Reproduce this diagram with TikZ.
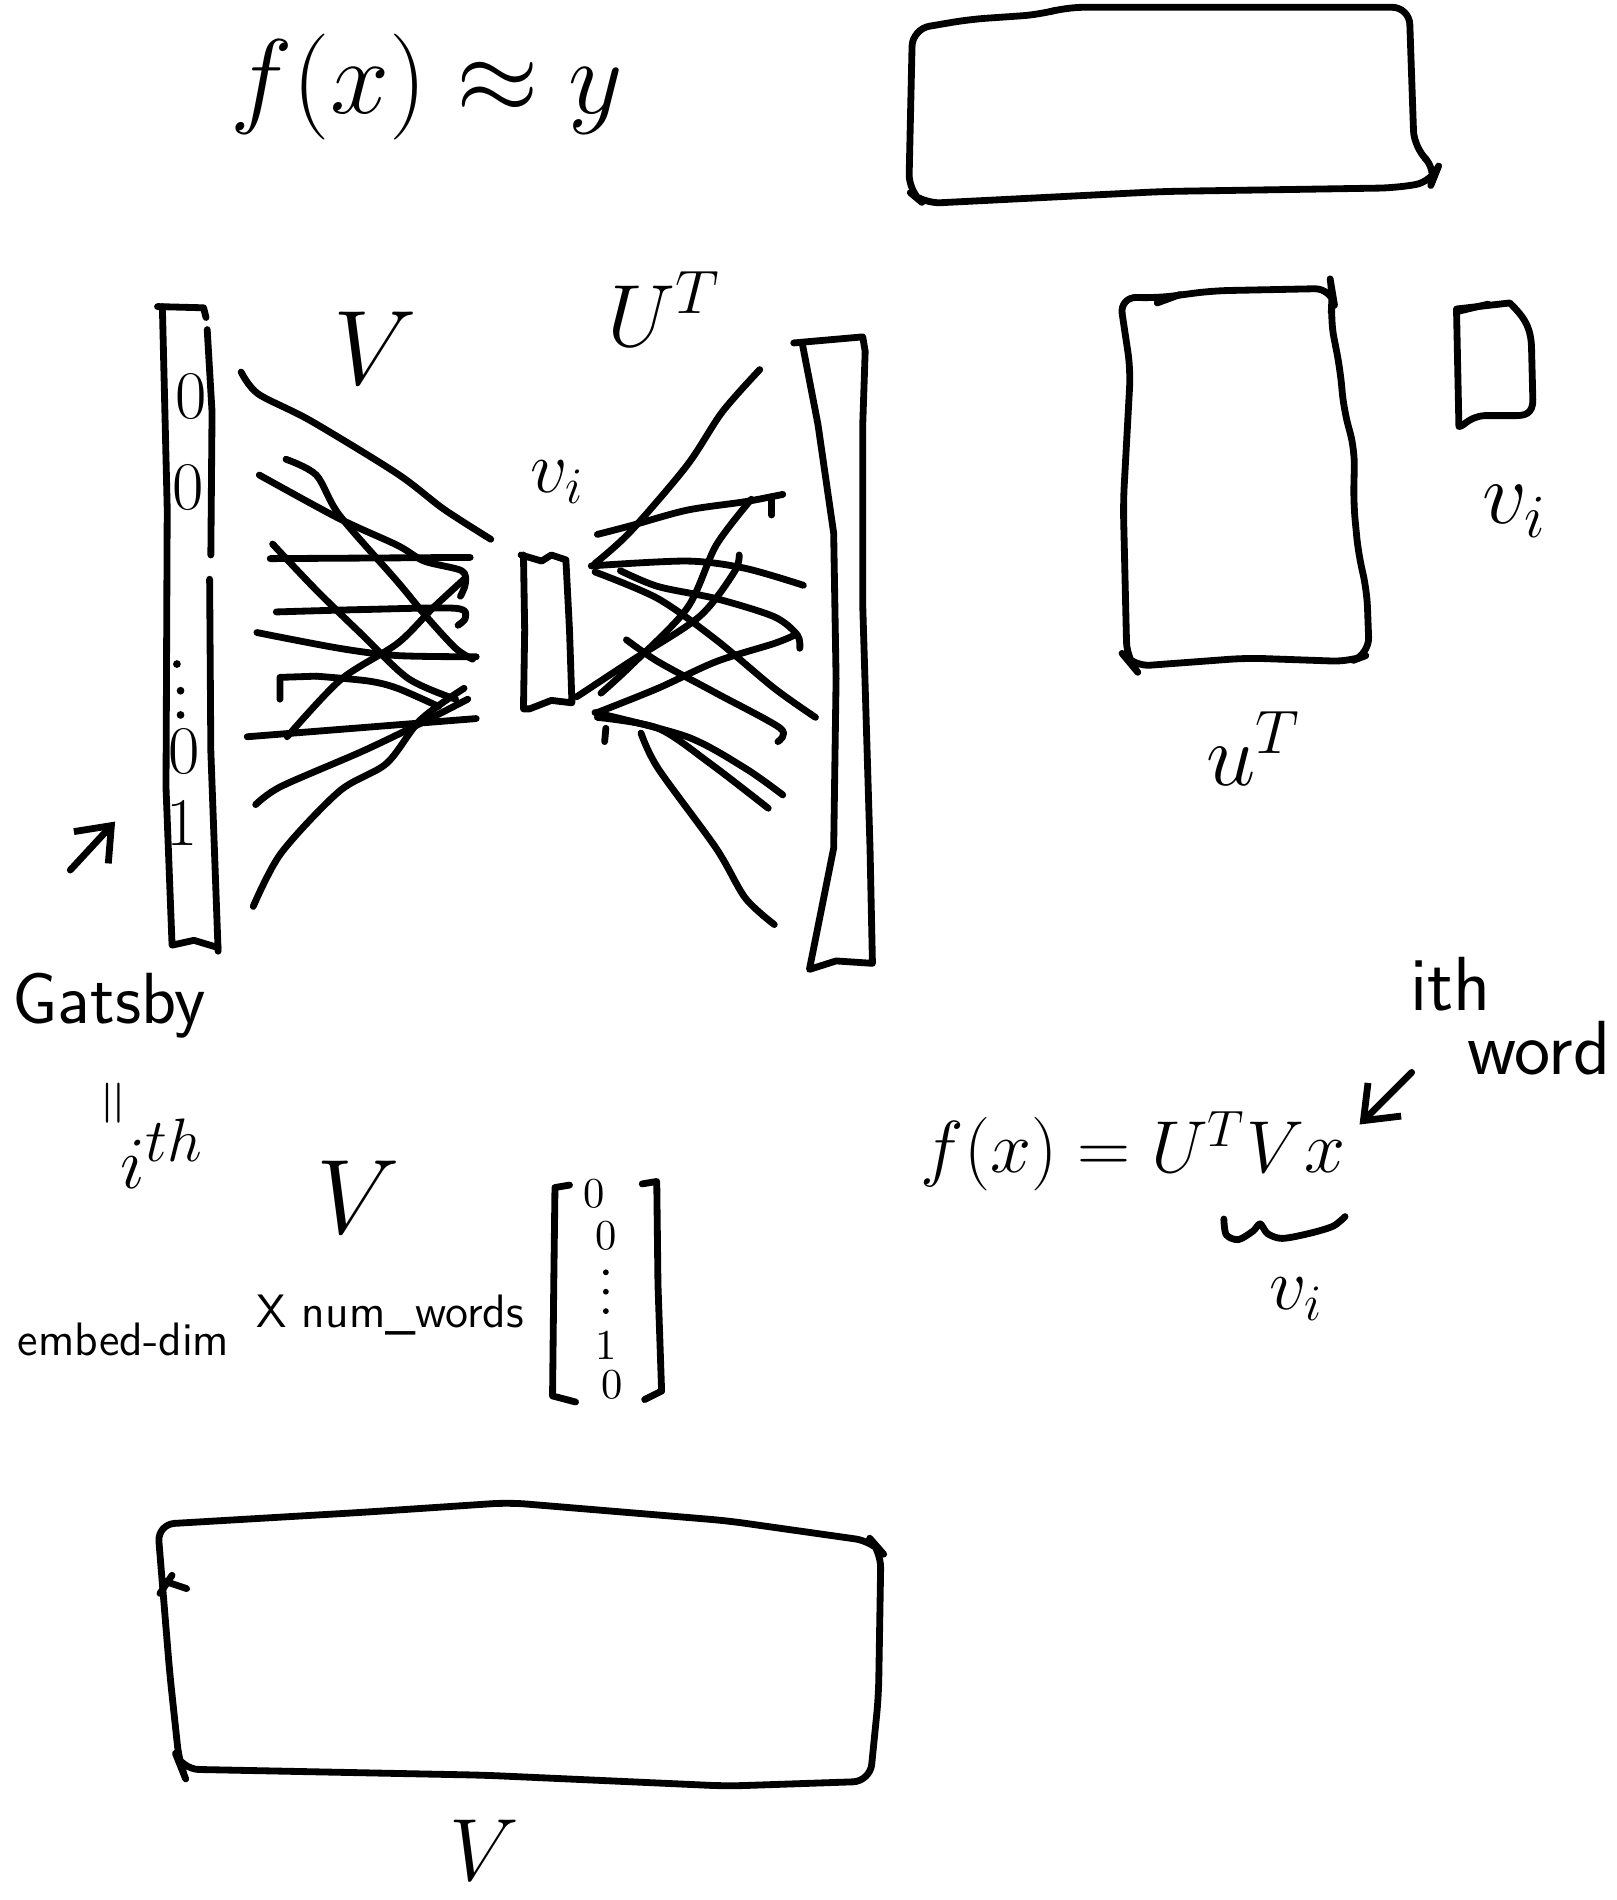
\documentclass[tikz,border=0pt]{standalone}
\usepackage{amsmath}
\usetikzlibrary{arrows.meta}
\begin{document}
\begin{tikzpicture}[x=0.01cm, y=-0.01cm,
    pen/.style={line width=1.6pt, line cap=round, line join=round},
    hand/.style={inner sep=0pt},
    barb/.style={-{Straight Barb[length=7pt, width=11pt, line width=1.6pt]}}]
\useasboundingbox (0,0) rectangle (1334,1568);

% Formel oben
\node[hand, font=\fontsize{25}{30}\selectfont] (approx) at (352,72) {$f(x) \approx y$};

% Breiter Kasten oben rechts
\draw[pen, rounded corners=4pt] (753,24) -- (800,16) -- (858,12) -- (880,6) -- (1163,6) -- (1167,122) -- (1186,140) -- (1182,150) -- (1152,155) -- (960,158) -- (762,168) -- (750,158) -- cycle;

% Linke Spalte (one-hot Vektor)
\draw[pen] (130,253) -- (168,254) -- (170,262);
\draw[pen] (134,253) -- (138,420) -- (137,650) -- (142,780) -- (160,776) -- (180,782);
\draw[pen] (171,272) -- (175,340) -- (174,458);
\draw[pen] (173,478) -- (174,620) -- (180,785);

% Eintraege der linken Spalte
\node[hand, font=\fontsize{16}{16}\selectfont] (xa) at (158,327) {0};
\node[hand, font=\fontsize{16}{16}\selectfont] (xb) at (155,402) {0};
\fill (146,548) circle [radius=3.2];
\fill (149,570) circle [radius=3.2];
\fill (149,590) circle [radius=3.2];
\node[hand, font=\fontsize{16}{16}\selectfont] (xc) at (152,620) {0};
\node[hand, font=\fontsize{16}{16}\selectfont] (xone) at (150,679) {1};

% Pfeil auf die Eins
\coordinate (arrtail) at (58,718);
\coordinate (arrhead) at (95,678);
\draw[pen, barb] (arrtail) -- (arrhead);

% Beschriftungen links
\node[hand, font=\sffamily\fontsize{17}{17}\selectfont] (gatsby) at (90,830) {Gatsby};
\node[hand, rotate=90, font=\fontsize{14}{14}\selectfont] (isis) at (97,910) {$=$};
\node[hand, font=\fontsize{19}{19}\selectfont] (ith) at (134,952) {$i^{th}$};
\node[hand, font=\fontsize{26}{26}\selectfont] (Vlab) at (296,988) {$V$};
\node[hand, font=\sffamily\fontsize{11}{11}\selectfont] (dim) at (102,1105) {embed-dim};
\node[hand, font=\sffamily\fontsize{11}{11}\selectfont] (words) at (322,1085) {X num\_words};

% Vektor in Klammern
\draw[pen] (470,978) -- (458,980) -- (457,1060) -- (456,1152) -- (475,1157);
\draw[pen] (530,977) -- (542,975) -- (543,1060) -- (546,1148) -- (532,1155);
\node[hand, font=\fontsize{10}{10}\selectfont] (ea) at (490,985) {0};
\node[hand, font=\fontsize{10}{10}\selectfont] (eb) at (500,1020) {0};
\fill (500,1050) circle [radius=2.4];
\fill (500,1066) circle [radius=2.4];
\fill (500,1082) circle [radius=2.4];
\node[hand, font=\fontsize{10}{10}\selectfont] (ec) at (500,1110) {1};
\node[hand, font=\fontsize{10}{10}\selectfont] (ed) at (505,1143) {0};

% Beschriftungen ueber den Linien
\node[hand, font=\fontsize{24}{24}\selectfont] (Vtop) at (310,287) {$V$};
\node[hand, font=\fontsize{22}{22}\selectfont] (Utop) at (548,255) {$U^{T}$};
\node[hand, font=\fontsize{18}{18}\selectfont] (vimid) at (460,398) {$v_i$};

% Kleiner Kasten in der Mitte (v_i)
\draw[pen] (430,458) -- (447,463) -- (455,458) -- (467,462) -- (470,520) -- (472,580) -- (455,578) -- (437,585) -- (432,585) -- (433,520) -- (432,458);

% Rechte Spalte
\draw[pen] (655,283) -- (712,278) -- (714,290) -- (712,350) -- (712,500) -- (718,700) -- (720,795) -- (690,793) -- (668,800) -- (688,700) -- (690,560) -- (688,440) -- (675,350) -- (662,283);

% Linien von links zum Kasten
\draw[pen] plot[smooth] coordinates {(199,307) (213,325) (256,347) (328,391) (366,420) (405,445)};
\draw[pen] plot[smooth] coordinates {(214,392) (280,428) (328,450) (350,463) (381,471) (384,482) (380,492)};
\draw[pen] plot[smooth] coordinates {(236,379) (261,392) (280,425) (328,480) (352,509) (376,535) (390,544)};
\draw[pen] (223,461) -- (388,460);
\draw[pen] plot[smooth] coordinates {(225,449) (261,487) (299,524) (337,560) (376,577)};
\draw[pen] plot[smooth] coordinates {(228,505) (300,503) (376,502) (384,510) (378,516)};
\draw[pen] plot[smooth] coordinates {(212,522) (280,535) (328,541) (393,542)};
\draw[pen] (231,577) -- (231,559) -- (261,558);
\draw[pen] plot[smooth] coordinates {(261,558) (304,562) (328,568) (362,583)};
\draw[pen] plot[smooth] coordinates {(237,608) (281,561) (328,531) (357,502) (383,478)};
\draw[pen] (204,608) -- (393,593);
\draw[pen] plot[smooth] coordinates {(211,664) (232,649) (299,620) (347,597) (386,577)};
\draw[pen] plot[smooth] coordinates {(209,748) (232,704) (280,653) (319,630) (347,594) (383,568)};

% Linien vom Kasten nach rechts
\draw[pen] plot[smooth] coordinates {(491,465) (520,439) (567,384) (596,340) (627,305)};
\draw[pen] plot[smooth] coordinates {(493,441) (520,434) (567,421) (615,414) (646,408)};
\draw[pen] (637,410) -- (637,425);
\draw[pen] plot[smooth] coordinates {(488,467) (567,463) (615,469) (663,483)};
\draw[pen] plot[smooth] coordinates {(512,471) (543,484) (591,494) (639,509) (658,524) (660,535)};
\draw[pen] plot[smooth] coordinates {(491,472) (543,494) (591,528) (639,568) (673,592)};
\draw[pen] plot[smooth] coordinates {(496,572) (520,550) (567,502) (591,450) (620,412)};
\draw[pen] plot[smooth] coordinates {(476,575) (520,546) (577,509) (606,472) (610,458)};
\draw[pen] plot[smooth] coordinates {(493,588) (543,568) (591,546) (639,531) (656,524)};
\draw[pen] plot[smooth] coordinates {(517,528) (543,546) (591,572) (644,601) (642,612)};
\draw[pen] plot[smooth] coordinates {(493,592) (543,601) (586,630) (634,667)};
\draw[pen] plot[smooth] coordinates {(491,588) (567,608) (615,634) (646,656)};
\draw[pen] plot[smooth] coordinates {(529,605) (543,634) (591,700) (615,741) (639,763)};
\draw[pen] (500,601) -- (499,612);

% Grosser Kasten U^T
\draw[pen, rounded corners=4pt] (924,245) -- (955,246) -- (1000,240) -- (1099,238) -- (1100,244) -- (1098,264) -- (1106,305) -- (1109,338) -- (1118,371) -- (1117,415) -- (1121,457) -- (1128,487) -- (1130,540) -- (1114,546) -- (1029,543) -- (935,550) -- (930,544) -- (927,415) -- (933,305) -- cycle;
\draw[pen] (955,250) -- (974,243);
\node[hand, font=\fontsize{22}{22}\selectfont] (Ublock) at (1035,618) {$u^{T}$};

% Kleiner Kasten v_i rechts
\draw[pen] (1202,255) -- (1246,250) .. controls (1258,262) and (1264,270) .. (1264,290) -- (1265,330) .. controls (1265,342) and (1258,343) .. (1250,343) -- (1225,343) .. controls (1212,344) and (1208,352) .. (1204,352) -- cycle;
\draw[pen] (1203,257) -- (1228,251);
\node[hand, font=\fontsize{20}{20}\selectfont] (viright) at (1250,422) {$v_i$};

% Formel f(x) = U^T V x
\node[hand, font=\fontsize{18}{18}\selectfont] (model) at (935,950) {$f(x) = U^{T} V x$};
\draw[pen] plot[smooth] coordinates {(1010,1006) (1012,1019) (1022,1023) (1034,1016) (1040,1010) (1046,1018) (1058,1022) (1080,1018) (1100,1012) (1110,1004)};
\node[hand, font=\fontsize{18}{18}\selectfont] (vieq) at (1070,1072) {$v_i$};

% Beschriftung ith word mit Pfeil
\node[hand, font=\sffamily\fontsize{18}{18}\selectfont] (ithw) at (1197,812) {ith};
\node[hand, font=\sffamily\fontsize{18}{18}\selectfont] (word) at (1270,865) {word};
\coordinate (wtail) at (1165,885);
\coordinate (whead) at (1122,928);
\draw[pen, barb] (wtail) -- (whead);

% Breiter Kasten unten (V)
\draw[pen, rounded corners=4pt] (130,1258) -- (300,1248) -- (420,1240) -- (600,1255) -- (720,1272) -- (727,1280) -- (725,1400) -- (718,1470) -- (600,1474) -- (400,1465) -- (150,1460) -- (148,1455) -- (140,1380) -- cycle;
\draw[pen] (132,1315) -- (142,1300);
\draw[pen] (136,1305) -- (154,1311);
\node[hand, font=\fontsize{22}{22}\selectfont] (Vbottom) at (400,1527) {$V$};
\end{tikzpicture}
\end{document}
